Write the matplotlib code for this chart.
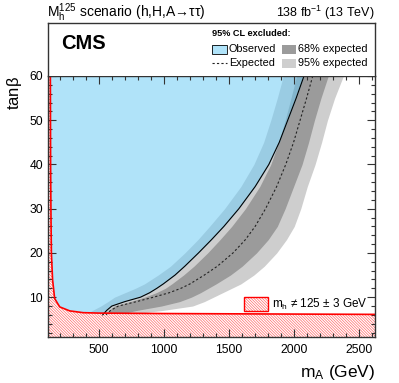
import matplotlib
matplotlib.use("Agg")
import matplotlib.pyplot as plt
from matplotlib.patches import Rectangle
from matplotlib.ticker import MultipleLocator

plt.rcParams['font.family'] = ['Liberation Sans', 'DejaVu Sans']
plt.rcParams['hatch.linewidth'] = 0.5

# contours, mA (GeV) as function of tan(beta)
tanb = [6.0, 7, 8, 9, 10, 11, 12, 13, 15, 17, 20, 23, 26, 30, 35, 40, 45, 50, 55, 60]
obs = [530, 560, 600, 700, 820, 890, 945, 995, 1085, 1160, 1265, 1365, 1460, 1575, 1700, 1805, 1885, 1950, 2015, 2075]
exp = [555, 590, 650, 790, 920, 1040, 1130, 1200, 1310, 1410, 1530, 1625, 1700, 1780, 1865, 1935, 1995, 2045, 2095, 2142]
lo68 = [545, 575, 620, 740, 850, 940, 1010, 1060, 1150, 1230, 1335, 1430, 1520, 1625, 1735, 1820, 1880, 1930, 1975, 2018]
hi68 = [640, 790, 980, 1120, 1210, 1280, 1340, 1400, 1510, 1600, 1710, 1800, 1870, 1930, 1995, 2060, 2110, 2155, 2205, 2261]
lo95 = [405, 450, 515, 570, 620, 700, 780, 850, 955, 1050, 1160, 1260, 1350, 1465, 1590, 1690, 1765, 1820, 1870, 1916]
hi95 = [700, 990, 1220, 1310, 1380, 1450, 1520, 1590, 1690, 1770, 1865, 1940, 2000, 2050, 2100, 2160, 2210, 2255, 2310, 2377]

# m_h != 125 +- 3 GeV boundary
mh_x = [128, 130, 133, 136, 145, 161, 200, 277, 379, 507, 1000, 2700]
mh_tb = [61, 40, 28, 20, 14, 9.7, 7.8, 6.9, 6.5, 6.4, 6.3, 6.1]

xmin, xmax = 110, 2620
ymin, ymax = 1, 60

c_obs = (0.44, 0.80, 0.96)
c_68 = '#9b9b9b'
c_95 = '#cecece'
c_hatch = '#ff6a6a'
frame = '#333333'
hatch = '\\' * 12

fig = plt.figure(figsize=(3.99, 3.83), dpi=100)
W, H = 399, 383
L, R = 48, 375
ax = fig.add_axes([L / W, (H - 337) / H, (R - L) / W, (337 - 76) / H])

ax.fill_betweenx(tanb, lo95, hi95, color=c_95, lw=0)
ax.fill_betweenx(tanb, lo68, hi68, color=c_68, lw=0)
ax.fill_betweenx(tanb, [0] * len(tanb), obs, color=c_obs, alpha=0.55, lw=0)
ax.plot(obs, tanb, color='black', lw=0.8)
ax.plot(exp, tanb, color='#222222', lw=0.8, ls=(0, (2, 2)))

hx = [100] + mh_x + [2700, 100]
hy = [61] + mh_tb + [0, 0]
ax.fill(hx, hy, facecolor='white', edgecolor=c_hatch, hatch=hatch, lw=0)
ax.plot(mh_x, mh_tb, color='red', lw=1.2)

# m_h legend
ax.add_patch(Rectangle((0.6, 0.1), 0.073, 0.054, transform=ax.transAxes,
                       facecolor='white', edgecolor=c_hatch, hatch=hatch, lw=0))
ax.add_patch(Rectangle((0.6, 0.1), 0.073, 0.054, transform=ax.transAxes,
                       facecolor='none', edgecolor='red', lw=1.0))
ax.text(0.685, 0.126, r'$\mathregular{m_h}$ ≠ 125 ± 3 GeV', transform=ax.transAxes,
        fontsize=8.5, va='center', ha='left')

ax.set_xlim(xmin, xmax)
ax.set_ylim(ymin, ymax)
ax.set_xticks([500, 1000, 1500, 2000, 2500])
ax.set_yticks([10, 20, 30, 40, 50, 60])
ax.xaxis.set_minor_locator(MultipleLocator(100))
ax.yaxis.set_minor_locator(MultipleLocator(2))
ax.tick_params(which='both', direction='in', top=True, right=True, labelsize=8.7, color=frame)
ax.tick_params(which='major', length=6, width=0.8)
ax.tick_params(which='minor', length=3, width=0.8)
ax.tick_params(axis='x', pad=5)
for s in ax.spines.values():
    s.set_color(frame)
    s.set_linewidth(1.0)

fig.text(R / W, 1 - 372 / H, r'$\mathregular{m_A}$ (GeV)', fontsize=12.5, ha='right', va='center')
fig.text(14 / W, 1 - 76 / H, r'tan$\mathregular{\beta}$', fontsize=12, rotation=90,
         ha='center', va='top')

# header box with CMS label and legend
hd = fig.add_axes([L / W, (H - 76) / H, (R - L) / W, (76 - 23) / H])
hd.set_xlim(0, 1)
hd.set_ylim(0, 1)
hd.set_xticks([])
hd.set_yticks([])
for s in hd.spines.values():
    s.set_color(frame)
    s.set_linewidth(1.0)
hd.spines['bottom'].set_visible(False)

hd.text(0.04, 0.62, 'CMS', fontsize=14.5, fontweight='bold', va='center')
hd.text(0.502, 0.8, '95% CL excluded:', fontsize=6.6, fontweight='bold', va='center')
hd.add_patch(Rectangle((0.502, 0.415), 0.045, 0.17, facecolor=c_obs, alpha=0.55, lw=0))
hd.add_patch(Rectangle((0.502, 0.415), 0.045, 0.17, facecolor='none', edgecolor='black', lw=0.6))
hd.text(0.553, 0.5, 'Observed', fontsize=7.8, va='center')
hd.add_patch(Rectangle((0.715, 0.415), 0.042, 0.17, facecolor=c_68, lw=0))
hd.text(0.764, 0.5, '68% expected', fontsize=7.8, va='center')
hd.plot([0.502, 0.547], [0.25, 0.25], color='#222222', lw=0.8, ls=(0, (2, 2)))
hd.text(0.553, 0.245, 'Expected', fontsize=7.8, va='center')
hd.add_patch(Rectangle((0.715, 0.16), 0.042, 0.17, facecolor=c_95, lw=0))
hd.text(0.764, 0.245, '95% expected', fontsize=7.8, va='center')

fig.text(47 / W, 1 - 13 / H, r'$\mathregular{M_h^{125}}$ scenario (h,H,A→ττ)', fontsize=10,
         ha='left', va='center')
fig.text(R / W, 1 - 13 / H, r'138 fb$\mathregular{^{-1}}$ (13 TeV)', fontsize=9,
         ha='right', va='center')

fig.savefig('out.png', dpi=100)
